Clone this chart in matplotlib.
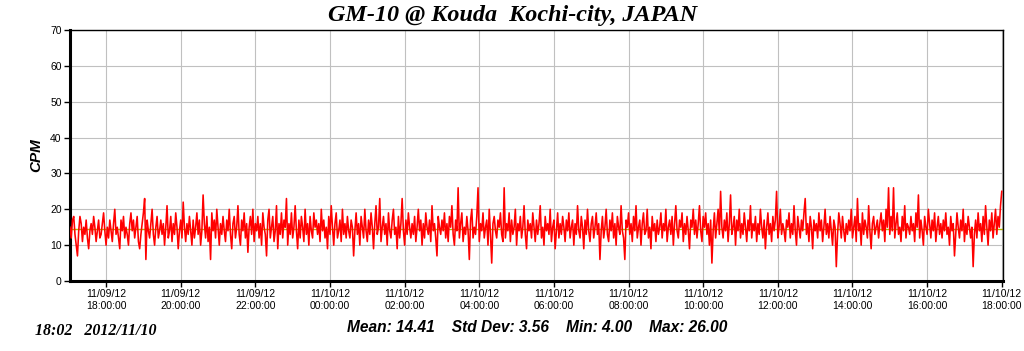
import pandas as pd
import numpy as np
import matplotlib
matplotlib.use('Agg')
import matplotlib.pyplot as plt
import matplotlib.dates as mdates

# CPM readings, one every 2 minutes, 11/09 17:02 -> 11/10 18:02
cpm = [
    15,12,17,18,13,10,7,14,18,16,11,15,13,17,12,9,14,16,13,18,15,11,14,17,12,
    13,16,19,14,10,15,12,17,14,11,16,20,13,15,12,9,17,14,18,12,15,13,10,16,19,
    14,17,12,15,18,11,9,13,16,19,23,6,17,14,12,16,20,13,10,15,18,12,14,17,13,
    16,10,15,21,12,14,18,11,16,13,19,15,9,14,17,12,22,15,11,16,13,18,14,10,17,
    12,15,19,13,17,10,14,24,16,12,18,11,15,6,19,14,17,12,20,15,10,16,13,18,14,
    11,17,14,20,13,9,16,18,12,15,21,13,10,17,14,19,12,16,8,15,18,13,20,11,16,
    14,18,12,16,10,19,15,13,7,17,20,12,15,18,11,14,21,9,16,13,19,12,17,15,23,
    10,16,13,19,12,15,21,14,9,17,12,18,15,11,20,13,16,10,18,14,12,19,15,17,13,
    16,11,20,14,17,12,15,9,18,13,21,15,10,16,19,12,14,17,11,20,13,16,12,18,14,
    12,17,15,7,14,19,13,16,10,18,15,12,20,14,11,17,13,19,15,9,16,21,13,15,23,
    11,15,18,13,16,10,19,14,12,17,20,13,15,9,18,12,16,23,14,10,17,13,19,15,12,
    16,13,18,11,15,20,14,17,10,16,12,19,15,13,17,11,21,14,16,12,7,18,15,13,17,
    14,19,12,16,11,18,15,21,13,10,17,14,26,12,16,19,11,15,13,18,14,6,17,20,12,
    15,13,18,26,11,16,14,19,12,15,17,10,20,13,5,16,18,14,12,17,15,19,13,11,26,
    12,16,14,19,11,17,13,15,20,10,16,14,18,12,15,21,13,9,17,14,16,12,19,15,11,
    17,13,16,21,12,15,10,18,14,16,13,20,11,15,17,9,14,19,12,16,13,18,15,11,17,
    14,19,12,15,17,10,16,13,21,14,12,18,15,9,17,13,20,14,11,16,18,12,15,19,13,
    16,6,14,18,12,15,20,13,11,17,14,19,12,16,10,18,15,13,21,14,12,6,17,15,19,
    13,16,11,18,14,21,12,15,17,10,16,19,13,14,20,12,15,9,18,14,16,11,17,13,15,
    19,12,16,14,20,11,15,17,13,18,10,16,21,14,12,17,15,19,11,16,13,18,14,9,17,
    15,20,13,17,12,16,21,14,11,18,15,19,13,16,10,17,5,14,19,12,16,20,13,25,15,
    12,17,14,19,11,16,24,13,15,18,10,17,14,20,12,16,13,19,15,11,17,14,21,12,16,
    14,18,11,16,13,20,15,12,17,9,15,19,13,16,11,18,14,17,25,12,15,20,13,16,14,
    11,17,15,19,12,16,13,21,14,10,18,15,12,17,14,19,23,13,16,11,18,15,9,17,14,
    16,12,19,14,17,11,15,20,13,16,12,18,14,10,17,15,4,13,19,16,12,18,14,11,16,
    13,17,14,20,12,15,18,11,23,14,16,10,19,13,17,15,12,21,14,9,16,18,13,15,17,
    12,16,19,14,17,11,20,15,26,13,18,14,26,12,16,19,13,15,11,18,14,21,12,16,15,
    13,18,14,16,11,19,15,24,12,17,14,10,18,15,13,20,16,12,17,14,19,11,15,18,13,
    16,12,17,14,19,13,15,10,18,14,16,7,13,19,15,12,17,14,20,11,16,13,18,15,12,
    15,4,13,17,12,19,14,16,11,18,13,21,15,10,17,14,19,12,16,20,13,18,15,21,25,
]
start_time = '2012-11-09 17:02'
end_time = '2012-11-10 18:02'
mean_cpm, std_cpm, min_cpm, max_cpm = 14.41, 3.56, 4.00, 26.00
stamp = '18:02   2012/11/10'
title = 'GM-10 @ Kouda  Kochi-city, JAPAN'

times = pd.date_range(start_time, periods=len(cpm), freq='2min')

fig = plt.figure(figsize=(10.24, 3.51), dpi=100)
ax = fig.add_axes([70/1024, 70/351, 933/1024, 251/351])

ax.plot(times, [mean_cpm]*len(times), color='#b4b400', lw=1, zorder=2)
ax.plot(times, cpm, color='#ff0000', lw=1.15, zorder=3)

ax.set_ylim(0, 70)
ax.set_yticks(np.arange(0, 71, 10))
ax.set_xlim(pd.Timestamp(start_time), pd.Timestamp(end_time))
ax.xaxis.set_major_locator(mdates.HourLocator(byhour=range(0, 24, 2)))
ax.xaxis.set_major_formatter(mdates.DateFormatter('%m/%d/%y\n%H:%M:%S'))
ax.grid(True, color='#c0c0c0', lw=0.8, zorder=0)
ax.set_axisbelow(True)

for s in ['top', 'right']:
    ax.spines[s].set_linewidth(1)
for s in ['left', 'bottom']:
    ax.spines[s].set_linewidth(2.2)
ax.tick_params(axis='both', direction='out', length=4, width=1, labelsize=7.5, pad=2)
for lab in ax.get_xticklabels() + ax.get_yticklabels():
    lab.set_family('Liberation Sans')
    lab.set_linespacing(1.15)

ax.set_ylabel('CPM', family='Liberation Sans', fontsize=11, fontweight='bold', style='italic', labelpad=5)

fig.text(513/1024, 1 - 16/351, title, ha='center', va='center',
         family='Liberation Serif', fontsize=17.4, fontweight='bold', style='italic')
fig.text(35/1024, 1 - 331/351, stamp, ha='left', va='center',
         family='Liberation Serif', fontsize=11.5, fontweight='bold', style='italic')
stats = f'Mean: {mean_cpm:.2f}    Std Dev: {std_cpm:.2f}    Min: {min_cpm:.2f}    Max: {max_cpm:.2f}'
fig.text(537/1024, 1 - 327/351, stats, ha='center', va='center',
         family='Liberation Sans', fontsize=11.2, fontweight='bold', style='italic')

fig.savefig('out.png', dpi=100)
